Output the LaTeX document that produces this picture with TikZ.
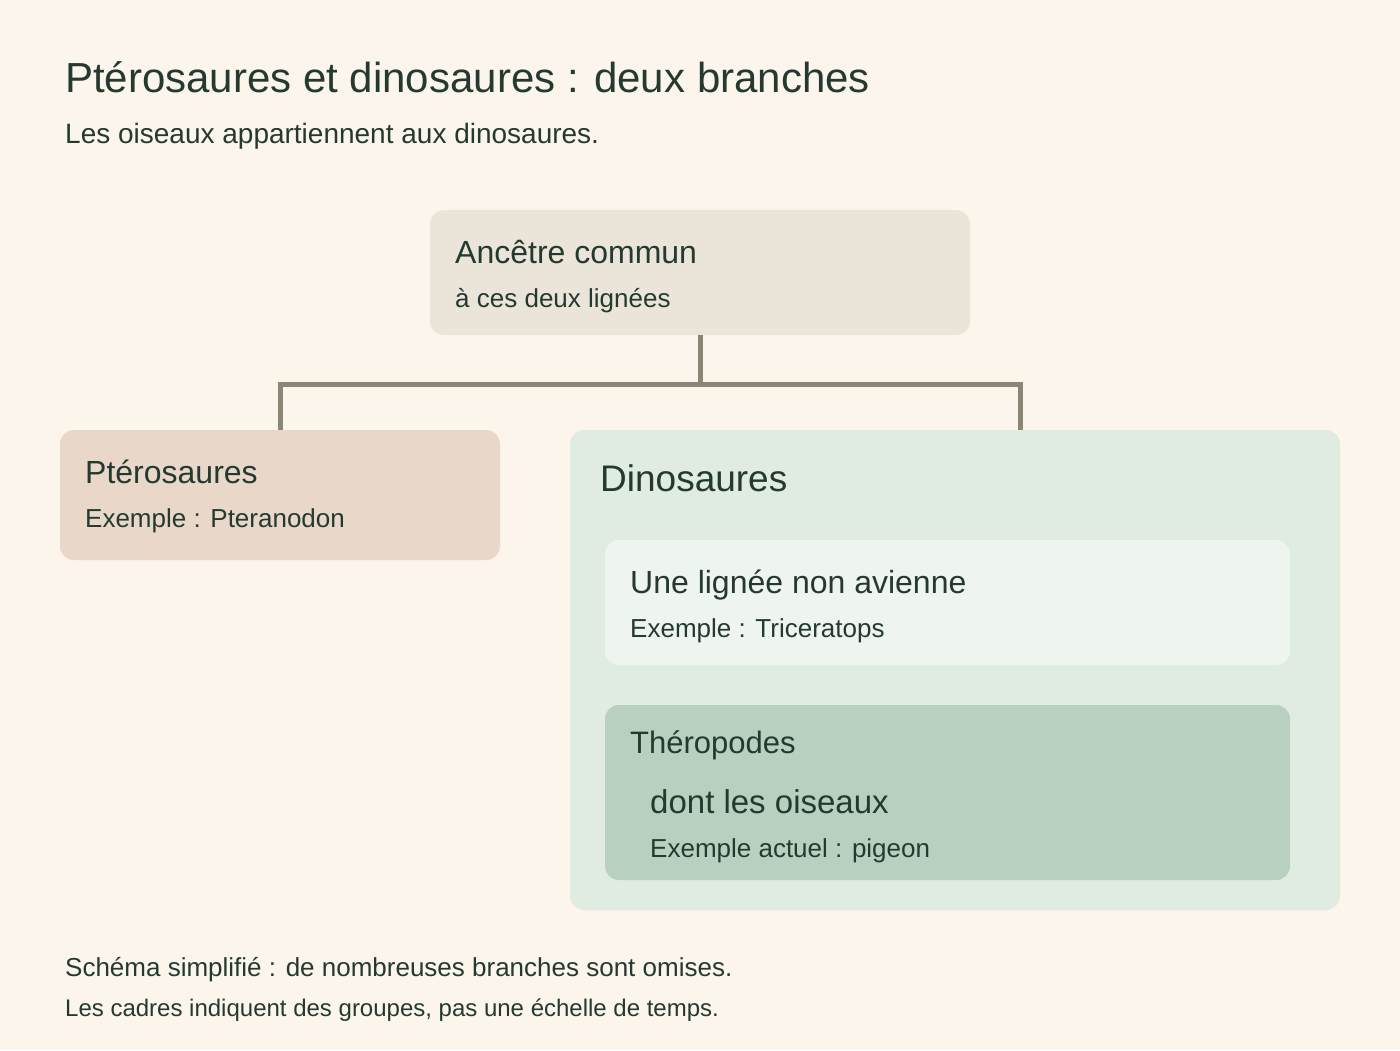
\documentclass[tikz,border=0pt]{standalone}
\usepackage{fontspec}
\setmainfont{Liberation Sans}
\usetikzlibrary{positioning}
\definecolor{paper}{HTML}{FCF5EB}
\definecolor{ink}{HTML}{243A30}
\definecolor{ancfill}{HTML}{EBE4D8}
\definecolor{ptefill}{HTML}{E9D8C9}
\definecolor{dinofill}{HTML}{E0EBE2}
\definecolor{nonfill}{HTML}{EEF4EE}
\definecolor{thefill}{HTML}{B8D0BF}
\definecolor{branch}{HTML}{8A8676}
\newcommand{\fs}[1]{\fontsize{#1}{#1}\selectfont}
\begin{document}
\begin{tikzpicture}[x=1pt,y=-1pt,
  box/.style={draw=none,rounded corners=14pt},
  txt/.style={anchor=base west,inner sep=0pt,text=ink},
  link/.style={draw=branch,line width=5pt}]
  \fill[paper] (0,0) rectangle (1400,1050);
  \useasboundingbox (0,0) rectangle (1400,1050);
  % titre
  \node[txt,font=\fs{42}] (title) at (65,92) {Ptérosaures et dinosaures : deux branches};
  \node[txt,font=\fs{28}] (subtitle) at (65,143) {Les oiseaux appartiennent aux dinosaures.};
  % cadres
  \fill[box,ancfill] (430,210) rectangle (970,335);
  \fill[box,ptefill] (60,430) rectangle (500,560);
  \fill[box,dinofill] (570,430) rectangle (1340,910);
  \fill[box,nonfill] (605,540) rectangle (1290,665);
  \fill[box,thefill] (605,705) rectangle (1290,880);
  % branches
  \coordinate (anc) at (700,335);
  \coordinate (fork) at (700,384);
  \coordinate (lft) at (280,384);
  \coordinate (rgt) at (1020,384);
  \coordinate (pte) at (280,430);
  \coordinate (dino) at (1020,430);
  \draw[link] (anc) -- (fork);
  \draw[link] ([xshift=-2.5pt]lft) -- ([xshift=2.5pt]rgt);
  \draw[link] (lft) -- (pte);
  \draw[link] (rgt) -- (dino);
  % textes
  \node[txt,font=\fs{32}] (ancT) at (455,263) {Ancêtre commun};
  \node[txt,font=\fs{26}] (ancS) at (455,307) {à ces deux lignées};
  \node[txt,font=\fs{32}] (pteT) at (85,483) {Ptérosaures};
  \node[txt,font=\fs{26}] (pteS) at (85,527) {Exemple : Pteranodon};
  \node[txt,font=\fs{37}] (dinoT) at (600,491) {Dinosaures};
  \node[txt,font=\fs{32}] (nonT) at (630,593) {Une lignée non avienne};
  \node[txt,font=\fs{26}] (nonS) at (630,637) {Exemple : Triceratops};
  \node[txt,font=\fs{31}] (theT) at (630,753) {Théropodes};
  \node[txt,font=\fs{33}] (oisT) at (650,813) {dont les oiseaux};
  \node[txt,font=\fs{26}] (oisS) at (650,857) {Exemple actuel : pigeon};
  % notes
  \node[txt,font=\fs{26}] (note1) at (65,976) {Schéma simplifié : de nombreuses branches sont omises.};
  \node[txt,font=\fs{24}] (note2) at (65,1016) {Les cadres indiquent des groupes, pas une échelle de temps.};
\end{tikzpicture}
\end{document}
